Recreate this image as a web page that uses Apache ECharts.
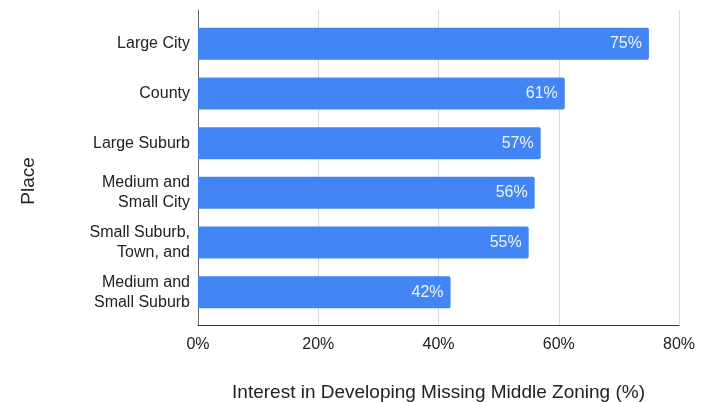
<!DOCTYPE html>
<html>
<head>
<meta charset="utf-8">
<script src="https://cdn.jsdelivr.net/npm/echarts@6/dist/echarts.min.js"></script>
<style>
  html, body { margin: 0; padding: 0; background: #fff; }
  #chart { width: 711px; height: 402px; }
</style>
</head>
<body>
<div id="chart"></div>
<script>
// place categories, top to bottom
const places = [
  'Large City',
  'County',
  'Large Suburb',
  'Medium and\nSmall City',
  'Small Suburb,\nTown, and',
  'Medium and\nSmall Suburb'
]
// interest in missing middle zoning, percent
const interest = [75, 61, 57, 56, 55, 42]
const xTicks = [0, 20, 40, 60, 80]

const font = 'Liberation Sans, Arial, sans-serif'
const chart = echarts.init(document.getElementById('chart'))
chart.setOption({
  animation: false,
  textStyle: { fontFamily: font },
  // grid 0 holds the frame, grid 1 (slightly inset) holds the bars
  grid: [
    { left: 198, right: 32, top: 10, bottom: 77, containLabel: false, outerBoundsMode: 'none' },
    { left: 198, right: 32, top: 19, bottom: 85, containLabel: false, outerBoundsMode: 'none' }
  ],
  xAxis: [{
    gridIndex: 0,
    type: 'value',
    min: xTicks[0],
    max: xTicks[xTicks.length - 1],
    interval: 20,
    name: 'Interest in Developing Missing Middle Zoning (%)',
    nameLocation: 'middle',
    nameGap: 58,
    nameTextStyle: { fontSize: 19, color: '#222' },
    axisLine: { show: true, lineStyle: { color: '#333', width: 1 } },
    axisTick: { show: false },
    axisLabel: { formatter: '{value}%', fontSize: 16, color: '#222', margin: 12 },
    splitLine: { show: true, lineStyle: { color: '#d9d9d9', width: 1 } }
  }, {
    gridIndex: 1,
    type: 'value',
    min: xTicks[0],
    max: xTicks[xTicks.length - 1],
    show: false
  }],
  yAxis: [{
    gridIndex: 0,
    type: 'value',
    axisLine: { show: true, lineStyle: { color: '#666', width: 1 } },
    axisTick: { show: false },
    axisLabel: { show: false },
    splitLine: { show: false }
  }, {
    gridIndex: 1,
    type: 'category',
    inverse: true,
    data: places,
    name: 'Place',
    nameLocation: 'middle',
    nameRotate: 90,
    nameGap: 160,
    nameTextStyle: { fontSize: 19, color: '#222', padding: [0, 26, 0, 0] },
    axisLine: { show: false },
    axisTick: { show: false },
    axisLabel: { fontSize: 16, color: '#222', lineHeight: 20, margin: 8, align: 'right' }
  }],
  series: [{
    type: 'bar',
    xAxisIndex: 1,
    yAxisIndex: 1,
    data: interest,
    barWidth: 32,
    itemStyle: { color: '#4285f4', borderRadius: [0, 2, 2, 0] },
    label: {
      show: true,
      position: 'insideRight',
      formatter: '{c}%',
      fontSize: 16,
      color: '#eef3fe',
      distance: 7
    }
  }]
})
</script>
</body>
</html>
